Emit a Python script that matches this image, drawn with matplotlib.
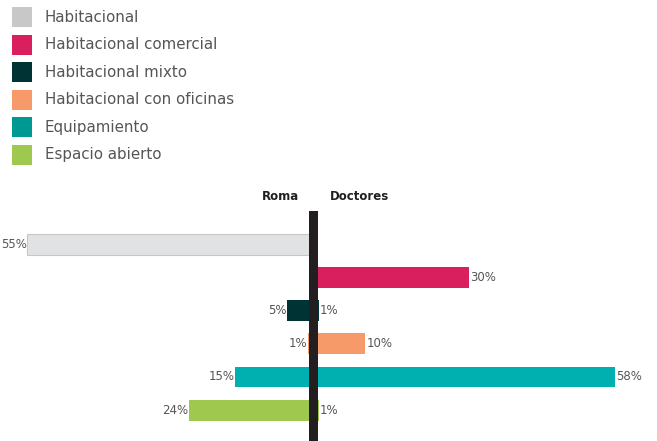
import matplotlib
matplotlib.use("Agg")
import matplotlib.pyplot as plt
from matplotlib.patches import Rectangle

categories = ["Habitacional", "Habitacional comercial", "Habitacional mixto",
              "Habitacional con oficinas", "Equipamiento", "Espacio abierto"]
roma = [55, 0, 5, 1, 15, 24]
doctores = [0, 30, 1, 10, 58, 1]
groups = ["Roma", "Doctores"]

bar_colors = ["#e1e2e4", "#da1f5e", "#003334", "#f79a69", "#00b0b0", "#9fc84f"]
legend_colors = ["#c8c8c8", "#da1f5e", "#003334", "#f79a69", "#009893", "#9fc84f"]
edge_colors = ["#c6c7c9"] + [None] * 5

W, H = 657, 441
fig = plt.figure(figsize=(W / 100, H / 100), dpi=100)
font = "DejaVu Sans"
plt.rcParams["font.family"] = [font]

# bar axes
top_px, bottom_px = 211, 441
ax = fig.add_axes([0, 0, 1, (bottom_px - top_px) / H])
center_px = 313.5
scale = 5.2  # px per percent
ax.set_xlim(-center_px / scale, (W - center_px) / scale)
row = 33.2
ax.set_ylim(-1.0 + (bottom_px - top_px) / row, -1.0)
ax.axis("off")

ys = list(range(len(categories)))
h = 0.63
for i in ys:
    ec = edge_colors[i] if edge_colors[i] else bar_colors[i]
    lw = 0.8 if edge_colors[i] else 0
    if roma[i] > 0:
        ax.barh(i, -roma[i], height=h, color=bar_colors[i], edgecolor=ec, linewidth=lw, zorder=2)
        ax.text(-roma[i] - 0.15, i, f"{roma[i]}%", ha="right", va="center",
                fontsize=8.5, color="#555555", zorder=4)
    if doctores[i] > 0:
        ax.barh(i, doctores[i], height=h, color=bar_colors[i], edgecolor=ec, linewidth=lw, zorder=2)
        ax.text(doctores[i] + 0.15, i, f"{doctores[i]}%", ha="left", va="center",
                fontsize=8.5, color="#555555", zorder=4)

ax.axvline(0, color="#231f20", linewidth=9 * 0.72, zorder=3)

# headers
fig.text(299 / W, 1 - 197 / H, groups[0], ha="right", va="center",
         fontsize=8.5, fontweight="bold", color="#231f20")
fig.text(330 / W, 1 - 197 / H, groups[1], ha="left", va="center",
         fontsize=8.5, fontweight="bold", color="#231f20")

# legend
y0, dy = 17, 27.6
for k, (cat, col) in enumerate(zip(categories, legend_colors)):
    yc = y0 + k * dy
    fig.patches.append(Rectangle((12 / W, 1 - (yc + 10) / H), 20 / W, 20 / H,
                                 transform=fig.transFigure, facecolor=col,
                                 edgecolor="none"))
    fig.text(45 / W, 1 - yc / H, cat, ha="left", va="center",
             fontsize=10.8, color="#555555")

fig.savefig("out.png", dpi=100)
